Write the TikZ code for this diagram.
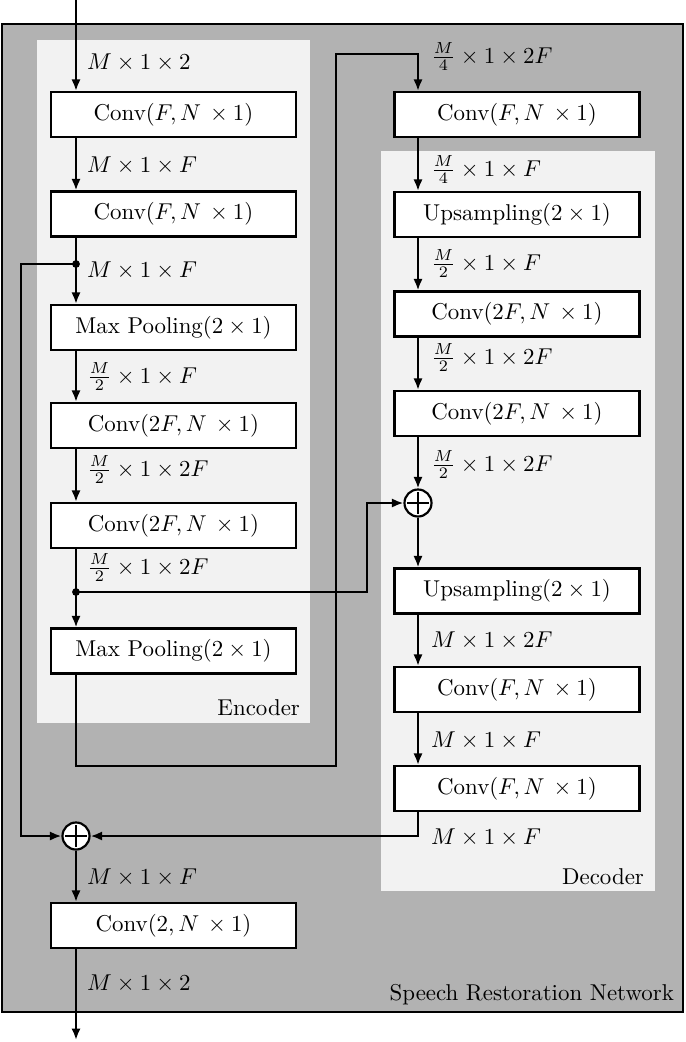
\documentclass[tikz,border=0pt]{standalone}
\usetikzlibrary{arrows.meta,calc}
\definecolor{outergray}{gray}{0.70}
\definecolor{panelgray}{gray}{0.95}
\begin{document}
\begin{tikzpicture}[x=0.4367pt,y=-0.4367pt,
  font=\fontsize{10}{12}\selectfont,
  line width=0.95pt,
  blk/.style={draw,fill=white,minimum width=107pt,minimum height=19.65pt,inner sep=0pt},
  sumnode/.style={draw,fill=white,circle,minimum size=11.8pt,inner sep=0pt,
    path picture={\draw[line width=0.95pt] ([xshift=-4.6pt]path picture bounding box.center) -- ([xshift=4.6pt]path picture bounding box.center);
                  \draw[line width=0.95pt] ([yshift=-4.6pt]path picture bounding box.center) -- ([yshift=4.6pt]path picture bounding box.center);}},
  dim/.style={anchor=base west,inner sep=0pt},
  arr/.style={-{Latex[length=5pt,width=4pt]}},
  dot/.style={circle,fill=black,inner sep=0pt,minimum size=3.4pt},
  paneltitle/.style={anchor=base east,inner sep=0pt}]
\useasboundingbox (0,0) rectangle (685,1042);
% panels
\draw[fill=outergray,line width=1.1pt] (2,24) rectangle (683,1012);
\fill[panelgray] (37,40) rectangle (310,723);
\fill[panelgray] (381,151) rectangle (655,891);
\node[paneltitle] (enc) at (301,715) {Encoder};
\node[paneltitle] (dec) at (645,884) {Decoder};
\node[paneltitle] (srn) at (675,1000) {Speech Restoration Network};
% reference columns
\coordinate (cl) at (76,0);
\coordinate (cr) at (418,0);
% encoder boxes
\node[blk] (e1) at (173.5,114.5) {Conv$(F, N\,\times 1)$};
\node[blk] (e2) at (173.5,214) {Conv$(F, N\,\times 1)$};
\node[blk] (e3) at (173.5,327.5) {Max Pooling$(2 \times 1)$};
\node[blk] (e4) at (173.5,425.5) {Conv$(2F, N\,\times 1)$};
\node[blk] (e5) at (173.5,525.5) {Conv$(2F, N\,\times 1)$};
\node[blk] (e6) at (173.5,651) {Max Pooling$(2 \times 1)$};
% decoder boxes
\node[blk] (d0) at (517,114.5) {Conv$(F, N\,\times 1)$};
\node[blk] (d1) at (517,214.5) {Upsampling$(2 \times 1)$};
\node[blk] (d2) at (517,314) {Conv$(2F, N\,\times 1)$};
\node[blk] (d3) at (517,413.5) {Conv$(2F, N\,\times 1)$};
\node[sumnode] (add1) at (418,503) {};
\node[blk] (d4) at (517,591) {Upsampling$(2 \times 1)$};
\node[blk] (d5) at (517,689.5) {Conv$(F, N\,\times 1)$};
\node[blk] (d6) at (517,788.5) {Conv$(F, N\,\times 1)$};
% output
\node[sumnode] (add2) at (76,836) {};
\node[blk] (out) at (173.5,925.5) {Conv$(2, N\,\times 1)$};
\coordinate (in) at (76,0);
\coordinate (outend) at (76,1040);
\node[dot] (j1) at (76,264) {};
\node[dot] (j2) at (76,592) {};
% encoder connectors
\draw[arr] (in) -- (e1.north -| cl);
\draw[arr] (e1.south -| cl) -- (e2.north -| cl);
\draw (e2.south -| cl) -- (j1.center);
\draw[arr] (j1.center) -- (e3.north -| cl);
\draw[arr] (e3.south -| cl) -- (e4.north -| cl);
\draw[arr] (e4.south -| cl) -- (e5.north -| cl);
\draw (e5.south -| cl) -- (j2.center);
\draw[arr] (j2.center) -- (e6.north -| cl);
% bottleneck
\draw[arr] (e6.south -| cl) -- (76,766) -- (336,766) -- (336,54) -- (418,54) -- (d0.north -| cr);
% decoder connectors
\draw[arr] (d0.south -| cr) -- (d1.north -| cr);
\draw[arr] (d1.south -| cr) -- (d2.north -| cr);
\draw[arr] (d2.south -| cr) -- (d3.north -| cr);
\draw[arr] (d3.south -| cr) -- (add1.north);
\draw[arr] (add1.south) -- (d4.north -| cr);
\draw[arr] (d4.south -| cr) -- (d5.north -| cr);
\draw[arr] (d5.south -| cr) -- (d6.north -| cr);
\draw[arr] (d6.south -| cr) -- (418,836) -- (add2.east);
% skips
\draw[arr] (j2.center) -- (367,592) -- (367,503) -- (add1.west);
\draw[arr] (j1.center) -- (21,264) -- (21,836) -- (add2.west);
% output connectors
\draw[arr] (add2.south) -- (out.north -| cl);
\draw[arr] (out.south -| cl) -- (outend);
% dimension labels
\node[dim] (l1) at (86,69) {$M \times 1 \times 2$};
\node[dim] (l2) at (86,172) {$M \times 1 \times F$};
\node[dim] (l3) at (86,277) {$M \times 1 \times F$};
\node[dim] (l4) at (86,383) {$\frac{M}{2} \times 1 \times F$};
\node[dim] (l5) at (86,476) {$\frac{M}{2} \times 1 \times 2F$};
\node[dim] (l6) at (86,574) {$\frac{M}{2} \times 1 \times 2F$};
\node[dim] (r1) at (430,63) {$\frac{M}{4} \times 1 \times 2F$};
\node[dim] (r2) at (430,176) {$\frac{M}{4} \times 1 \times F$};
\node[dim] (r3) at (430,270) {$\frac{M}{2} \times 1 \times F$};
\node[dim] (r4) at (430,364) {$\frac{M}{2} \times 1 \times 2F$};
\node[dim] (r5) at (430,471) {$\frac{M}{2} \times 1 \times 2F$};
\node[dim] (r6) at (430,647) {$M \times 1 \times 2F$};
\node[dim] (r7) at (430,747) {$M \times 1 \times F$};
\node[dim] (r8) at (430,844) {$M \times 1 \times F$};
\node[dim] (o1) at (86,884) {$M \times 1 \times F$};
\node[dim] (o2) at (86,990) {$M \times 1 \times 2$};
\end{tikzpicture}
\end{document}
